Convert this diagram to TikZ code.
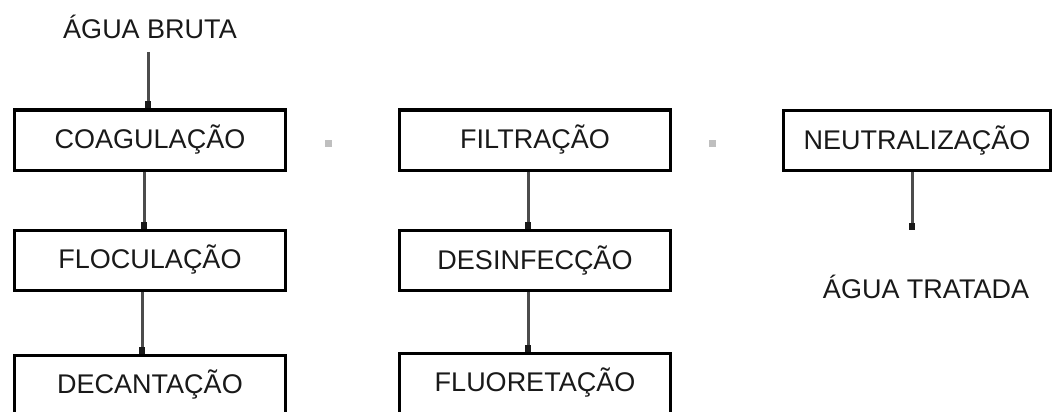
\documentclass[tikz,border=0pt]{standalone}
\usepackage{fontspec}
\setmainfont{Liberation Sans}
\usetikzlibrary{arrows.meta}

\tikzset{
  etapa/.style={draw=black,line width=3pt,minimum width=271pt,minimum height=60pt,inner sep=0pt,font=\fontsize{27}{31}\selectfont,text=black!90},
  rotulo/.style={font=\fontsize{27}{31}\selectfont,text=black!90},
  fluxo/.style={draw=black!70,line width=3pt,-{Rectangle[length=7pt,width=6pt,color=black!90]}},
  ponto/.style={fill=black!25}
}

\begin{document}
\begin{tikzpicture}[x=1pt,y=-1pt]
      \useasboundingbox (0,0) rectangle (1053,412);

      % primeira coluna
      \node[rotulo] (bruta) at (150,27) {ÁGUA BRUTA};
      \node[etapa] (coag) at (150,140) {COAGULAÇÃO};
      \node[etapa] (floc) at (150,260) {FLOCULAÇÃO};
      \node[etapa] (decant) at (150,385) {DECANTAÇÃO};

      % segunda coluna
      \node[etapa] (filt) at (535,140) {FILTRAÇÃO};
      \node[etapa] (desinf) at (535,260.5) {DESINFECÇÃO};
      \node[etapa] (fluor) at (535,383) {FLUORETAÇÃO};

      % terceira coluna
      \node[etapa,minimum width=267pt] (neutral) at (917,140.5) {NEUTRALIZAÇÃO};
      \node[rotulo] (tratada) at (926,287) {ÁGUA TRATADA};
      \coordinate (saida) at (912,230);
      \coordinate (entrada) at (148,52);

      \draw[fluxo] (entrada) -- (entrada |- coag.north);
      \draw[fluxo] ([xshift=-6pt]coag.south) -- ([xshift=-6pt]floc.north);
      \draw[fluxo] ([xshift=-8pt]floc.south) -- ([xshift=-8pt]decant.north);
      \draw[fluxo] ([xshift=-7pt]filt.south) -- ([xshift=-7pt]desinf.north);
      \draw[fluxo] ([xshift=-7pt]desinf.south) -- ([xshift=-7pt]fluor.north);
      \draw[fluxo] (saida |- neutral.south) -- (saida);

      % pontos entre as colunas
      \fill[ponto] (325,140) rectangle ++(7,7);
      \fill[ponto] (709,140) rectangle ++(7,7);
    \end{tikzpicture}
\end{document}
